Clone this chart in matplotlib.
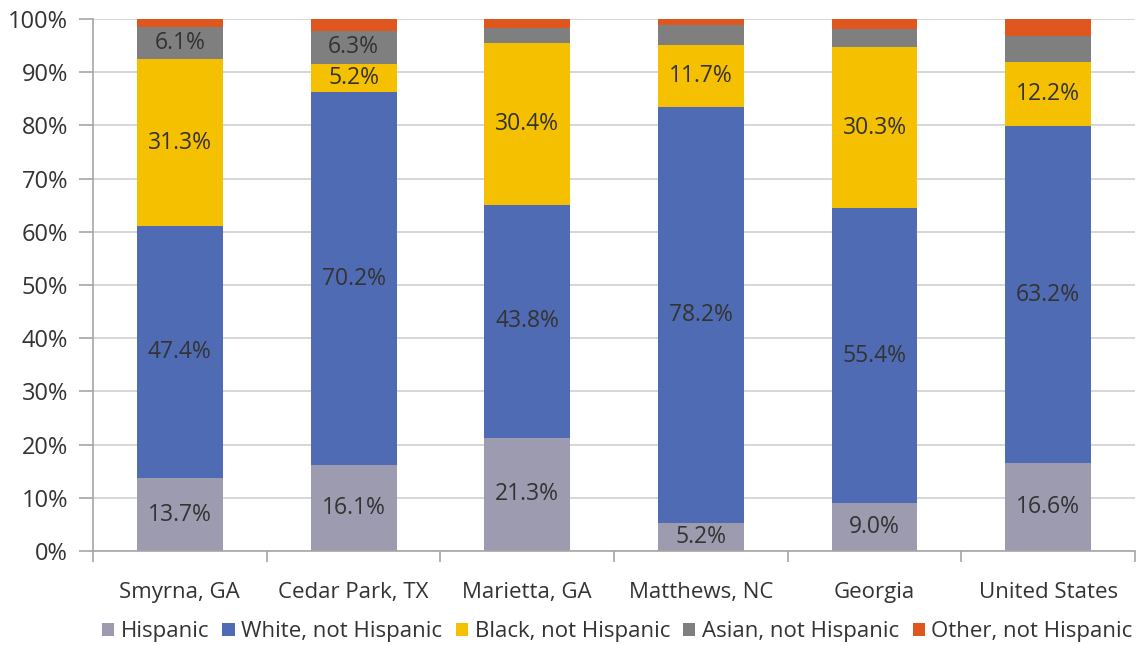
import numpy as np
import matplotlib
matplotlib.use("Agg")
import matplotlib.pyplot as plt
from matplotlib.patches import Patch

plt.rcParams['font.family'] = ['Open Sans', 'DejaVu Sans']

places = ["Smyrna, GA", "Cedar Park, TX", "Marietta, GA", "Matthews, NC", "Georgia", "United States"]
series_names = ["Hispanic", "White, not Hispanic", "Black, not Hispanic",
                "Asian, not Hispanic", "Other, not Hispanic"]

hispanic = [13.7, 16.1, 21.3, 5.2, 9.0, 16.6]
white = [47.4, 70.2, 43.8, 78.2, 55.4, 63.2]
black = [31.3, 5.2, 30.4, 11.7, 30.3, 12.2]
asian = [6.1, 6.3, 2.8, 3.8, 3.4, 4.8]
other = [1.5, 2.2, 1.7, 1.1, 1.9, 3.2]

# which bars get a printed value, per series
show_label = [
    [True] * 6,
    [True] * 6,
    [True] * 6,
    [True, True, False, False, False, False],
    [False] * 6,
]

colors = ["#9c9bb0", "#4f6bb3", "#f5c000", "#7f7f7f", "#e0561f"]
text_color = "#333333"
axis_color = "#a6a6a6"

fig = plt.figure(figsize=(11.43, 6.45), dpi=100)
ax = fig.add_axes([0.0814, 0.1457, 0.9116, 0.8248])

x = np.arange(len(places))
bottom = np.zeros(len(places))
for name, vals, col, flags in zip(series_names, [hispanic, white, black, asian, other], colors, show_label):
    vals = np.array(vals)
    ax.bar(x, vals, 0.495, bottom=bottom, color=col, zorder=3)
    for xi, b, v, f in zip(x, bottom, vals, flags):
        if f:
            ax.text(xi, b + v / 2, f"{v:.1f}%", ha="center", va="center",
                    fontsize=16.5, color=text_color, zorder=4)
    bottom += vals

ax.set_xlim(-0.5, len(places) - 0.5)
ax.set_ylim(0, 100)
ax.set_yticks(np.arange(0, 101, 10))
ax.set_yticklabels([f"{t}%" for t in range(0, 101, 10)], fontsize=17, color=text_color)
ax.set_xticks(x)
ax.set_xticklabels(places, fontsize=16, color=text_color)
ax.set_xticks(np.arange(-0.5, len(places), 1), minor=True)

ax.tick_params(axis="x", which="major", length=0, pad=22)
ax.tick_params(axis="x", which="minor", length=8, color=axis_color, width=1.2)
ax.tick_params(axis="y", length=10, color=axis_color, width=1.2, pad=8)

ax.grid(axis="y", color="#cfcfcf", linewidth=1.2, zorder=0)
for s in ["top", "right"]:
    ax.spines[s].set_visible(False)
for s in ["bottom", "left"]:
    ax.spines[s].set_color(axis_color)
    ax.spines[s].set_linewidth(1.2)
    ax.spines[s].set_zorder(5)

handles = [Patch(facecolor=c, label=n) for c, n in zip(colors, series_names)]
fig.legend(handles=handles, loc="lower center", bbox_to_anchor=(0.54, -0.027), ncol=5,
           frameon=False, fontsize=16, handlelength=0.55, handleheight=0.55,
           handletextpad=0.3, columnspacing=0.6, labelcolor=text_color)

fig.savefig("out.png", dpi=100)
